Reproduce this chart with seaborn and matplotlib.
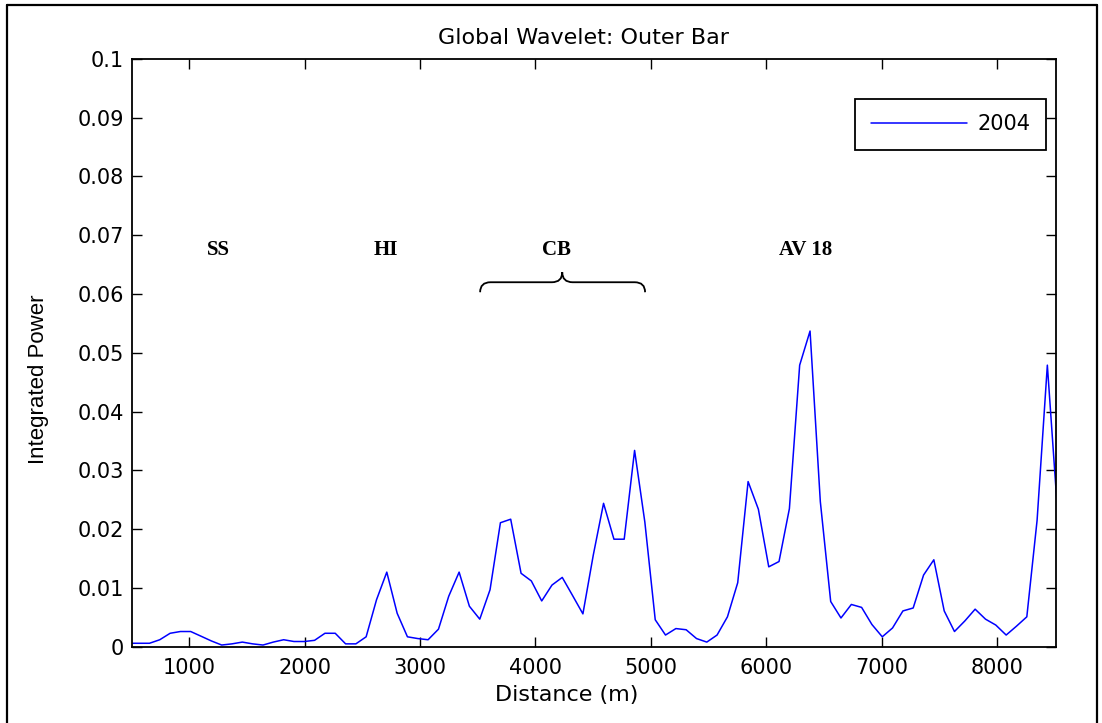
import matplotlib
matplotlib.use("Agg")
import matplotlib.pyplot as plt
from matplotlib.path import Path
from matplotlib.patches import PathPatch
from matplotlib.lines import Line2D
import seaborn as sns
import pandas as pd

# ---------------- data ----------------
distance = [475, 564, 654, 743, 833, 922, 1011, 1101, 1190, 1280,
            1369, 1459, 1548, 1638, 1727, 1817, 1906, 1996, 2085, 2175,
            2264, 2354, 2443, 2532, 2622, 2711, 2801, 2890, 2980, 3069,
            3159, 3248, 3338, 3427, 3517, 3606, 3696, 3785, 3875, 3964,
            4054, 4143, 4232, 4322, 4411, 4501, 4590, 4680, 4769, 4859,
            4948, 5038, 5127, 5217, 5306, 5396, 5485, 5574, 5664, 5753,
            5843, 5932, 6022, 6111, 6201, 6290, 6380, 6469, 6559, 6648,
            6738, 6827, 6916, 7006, 7095, 7185, 7274, 7364, 7453, 7543,
            7632, 7722, 7811, 7901, 7990, 8080, 8169, 8259, 8348, 8437,
            8527]
power_2004 = [0.0006, 0.0006, 0.0006, 0.0012, 0.0023, 0.0026, 0.0026, 0.0018, 0.0010, 0.0003,
              0.0005, 0.0008, 0.0005, 0.0003, 0.0008, 0.0012, 0.0009, 0.0009, 0.0011, 0.0023,
              0.0023, 0.0005, 0.0005, 0.0017, 0.0080, 0.0127, 0.0057, 0.0017, 0.0014, 0.0012,
              0.0030, 0.0086, 0.0127, 0.0069, 0.0047, 0.0097, 0.0211, 0.0217, 0.0125, 0.0112,
              0.0078, 0.0105, 0.0118, 0.0087, 0.0056, 0.0156, 0.0244, 0.0183, 0.0183, 0.0334,
              0.0212, 0.0046, 0.0020, 0.0031, 0.0029, 0.0014, 0.0008, 0.0020, 0.0051, 0.0109,
              0.0281, 0.0234, 0.0136, 0.0145, 0.0235, 0.0479, 0.0537, 0.0247, 0.0077, 0.0049,
              0.0072, 0.0067, 0.0038, 0.0017, 0.0032, 0.0061, 0.0066, 0.0122, 0.0148, 0.0061,
              0.0026, 0.0044, 0.0064, 0.0047, 0.0037, 0.0020, 0.0035, 0.0051, 0.0215, 0.0479,
              0.0225]
series_label = "2004"

x_ticks = [1000, 2000, 3000, 4000, 5000, 6000, 7000, 8000]
y_ticks = [0, 0.01, 0.02, 0.03, 0.04, 0.05, 0.06, 0.07, 0.08, 0.09, 0.1]
y_tick_labels = ["0", "0.01", "0.02", "0.03", "0.04", "0.05", "0.06", "0.07", "0.08", "0.09", "0.1"]

region_labels = ["SS", "HI", "CB", "AV 18"]
region_x = [1250, 2705, 4180, 6345]
region_y = 0.0675

title_text = "Global Wavelet: Outer Bar"
x_label = "Distance (m)"
y_label = "Integrated Power"

# ---------------- style ----------------
sns.set_style("ticks")
plt.rcParams["font.family"] = ["DejaVu Sans"]
plt.rcParams["axes.linewidth"] = 1.3
plt.rcParams["text.color"] = "black"

W, H = 1102, 723
fig = plt.figure(figsize=(W / 100, H / 100), dpi=100)
ax = fig.add_axes([132.3 / W, 1 - 646.8 / H, (1056 - 132.3) / W, (646.8 - 58.8) / H])

df = pd.DataFrame({"Distance": distance, "Power": power_2004})
sns.lineplot(data=df, x="Distance", y="Power", ax=ax, color="#0000FF",
             linewidth=1.1, label=series_label)

ax.set_xlim(505, 8512)
ax.set_ylim(0, 0.1)
ax.set_xticks(x_ticks)
ax.set_xticklabels([str(t) for t in x_ticks])
ax.set_yticks(y_ticks)
ax.set_yticklabels(y_tick_labels)
ax.tick_params(direction="in", length=7, width=1, top=True, right=True,
               labelsize=15, colors="black", pad=6)
ax.tick_params(axis="x", pad=8)
for s in ax.spines.values():
    s.set_visible(True)
    s.set_color("black")

ax.set_xlabel("")
ax.set_ylabel("")
ax.text(0.47, -0.082, x_label, transform=ax.transAxes, ha="center", va="center",
        fontsize=16, color="black")
ax.text(-0.102, 0.455, y_label, transform=ax.transAxes, ha="center", va="center",
        rotation=90, fontsize=16, color="black",
        family=["Liberation Sans", "DejaVu Sans"])
ax.text(0.488, 1.035, title_text, transform=ax.transAxes, ha="center", va="center",
        fontsize=16, color="black")

for lab, xv in zip(region_labels, region_x):
    ax.text(xv, region_y, lab, ha="center", va="center", fontsize=15,
            fontweight="bold", color="black",
            family=["Liberation Serif", "DejaVu Serif"])

# curly brace over CB
bl, br, bm = 3520, 4950, 4232
yb, yf, yt = 0.0603, 0.0620, 0.0637
verts = [(bl, yb), (bl, yf), (bl + 90, yf),
         (bm - 90, yf),
         (bm, yf), (bm, yt),
         (bm, yf), (bm + 90, yf),
         (br - 90, yf),
         (br, yf), (br, yb)]
codes = [Path.MOVETO, Path.CURVE3, Path.CURVE3,
         Path.LINETO,
         Path.CURVE3, Path.CURVE3,
         Path.CURVE3, Path.CURVE3,
         Path.LINETO,
         Path.CURVE3, Path.CURVE3]
ax.add_patch(PathPatch(Path(verts, codes), facecolor="none", edgecolor="black", lw=1.3))

leg = ax.legend(loc="upper right", bbox_to_anchor=(0.989, 0.932), fontsize=15,
                frameon=True, fancybox=False, framealpha=1, handlelength=4.6,
                borderpad=0.75, handletextpad=0.5, borderaxespad=0)
leg.get_frame().set_edgecolor("black")
leg.get_frame().set_linewidth(1.3)
for t in leg.get_texts():
    t.set_color("black")

# figure border
for (x0, y0, x1, y1) in [(7, 5, 1097, 5), (7, 5, 7, 723), (1097, 5, 1097, 723)]:
    fig.add_artist(Line2D([x0 / W, x1 / W], [1 - y0 / H, 1 - y1 / H],
                          transform=fig.transFigure, color="black", lw=1.6))

fig.savefig("out.png", dpi=100, facecolor="white")
